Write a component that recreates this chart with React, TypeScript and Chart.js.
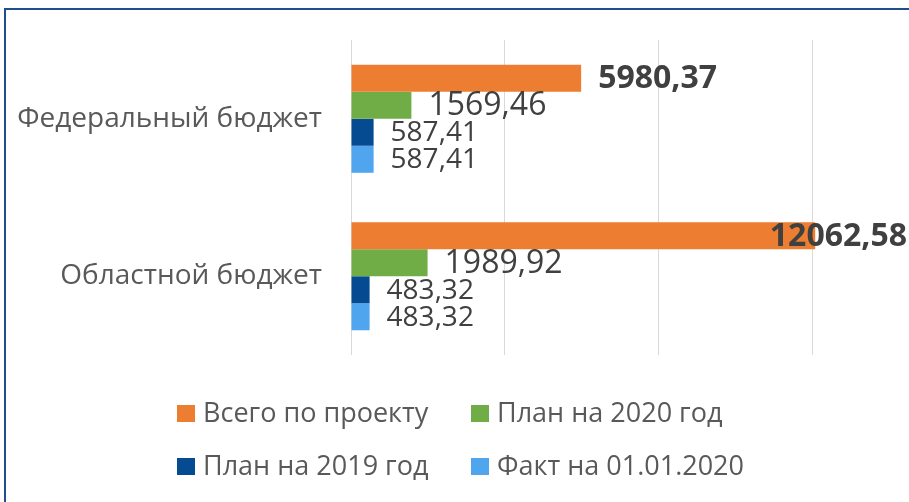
import React, { useEffect, useRef } from "react";
import { Chart, registerables } from "chart.js";

Chart.register(...registerables);

const categories = ["Федеральный бюджет", "Областной бюджет"];
const seriesNames = ["Всего по проекту", "План на 2020 год", "План на 2019 год", "Факт на 01.01.2020"];
const totalProject = [5980.37, 12062.58];
const plan2020 = [1569.46, 1989.92];
const plan2019 = [587.41, 483.32];
const fact2020 = [587.41, 483.32];
const xTicks = [0, 4000, 8000, 12000];
const colors = ["#ED7D31", "#70AD47", "#044B92", "#50A5EF"];

const FONT = "'Open Sans', 'Noto Sans', sans-serif";

const fmt = (v: number) => v.toFixed(2).replace(".", ",");

const frame = {
  id: "frame",
  beforeDraw(chart: any) {
    const { ctx, width, height } = chart;
    ctx.save();
    ctx.fillStyle = "#ffffff";
    ctx.fillRect(0, 0, width, height);
    ctx.fillStyle = "#1D4F8E";
    ctx.fillRect(4, 8, 2, height - 8);
    ctx.fillRect(4, 8, width - 4, 2);
    ctx.restore();
  },
};

const dataLabels = {
  id: "dataLabels",
  afterDatasetsDraw(chart: any) {
    const { ctx, chartArea } = chart;
    ctx.save();
    ctx.fillStyle = "#404040";
    ctx.textBaseline = "middle";
    ctx.textAlign = "left";
    chart.data.datasets.forEach((ds: any, di: number) => {
      const meta = chart.getDatasetMeta(di);
      meta.data.forEach((bar: any, i: number) => {
        const text = fmt(ds.data[i]);
        if (di === 0) ctx.font = `bold 32px ${FONT}`;
        else if (di === 1) ctx.font = `32px ${FONT}`;
        else ctx.font = `28px ${FONT}`;
        const w = ctx.measureText(text).width;
        let x = bar.x + 17;
        if (x + w > chartArea.right) x = chartArea.right - w - 2;
        ctx.fillText(text, x, bar.y + 1);
      });
    });
    ctx.restore();
  },
};

const legendGrid = {
  id: "legendGrid",
  afterDraw(chart: any) {
    const { ctx } = chart;
    const cols = [177, 471];
    const rows = [413.5, 466.5];
    ctx.save();
    ctx.font = `27px ${FONT}`;
    ctx.textBaseline = "middle";
    ctx.textAlign = "left";
    seriesNames.forEach((name, i) => {
      const x = cols[i % 2];
      const y = rows[Math.floor(i / 2)];
      ctx.fillStyle = colors[i];
      ctx.fillRect(x, y - 8.5, 18, 17);
      ctx.fillStyle = "#595959";
      ctx.fillText(name, x + 26, y + 1);
    });
    ctx.restore();
  },
};

export default function App() {
  const ref = useRef<HTMLCanvasElement | null>(null);
  useEffect(() => {
    if (!ref.current) return;
    const chart = new Chart(ref.current, {
      type: "bar",
      data: {
        labels: categories,
        datasets: [totalProject, plan2020, plan2019, fact2020].map((d, i) => ({
          label: seriesNames[i],
          data: d,
          backgroundColor: colors[i],
          borderWidth: 0,
          categoryPercentage: 0.686,
          barPercentage: 1,
        })),
      },
      options: {
        indexAxis: "y",
        animation: false,
        responsive: false,
        layout: { padding: { top: 40, bottom: 147, left: 0, right: 0 } },
        plugins: {
          legend: { display: false },
          tooltip: { enabled: false },
        },
        scales: {
          x: {
            min: 0,
            max: 14500,
            afterBuildTicks: (scale: any) => {
              scale.ticks = xTicks.map((v) => ({ value: v }));
            },
            ticks: { display: false },
            grid: { color: "#D9D9D9", lineWidth: 1, drawTicks: false },
            border: { display: false },
          },
          y: {
            afterFit: (scale: any) => {
              scale.width = 351;
              scale.paddingTop = 0;
              scale.paddingBottom = 0;
            },
            ticks: {
              padding: 29,
              color: "#595959",
              font: { family: FONT, size: 28 },
            },
            grid: { display: false, drawTicks: false },
            border: { display: false },
          },
        },
      },
      plugins: [frame, dataLabels, legendGrid],
    });
    return () => chart.destroy();
  }, []);
  return (
    <div style={{ position: "fixed", left: 0, top: 0, width: 909, height: 502 }}>
      <canvas ref={ref} width={909} height={502} style={{ display: "block" }} />
    </div>
  );
}
